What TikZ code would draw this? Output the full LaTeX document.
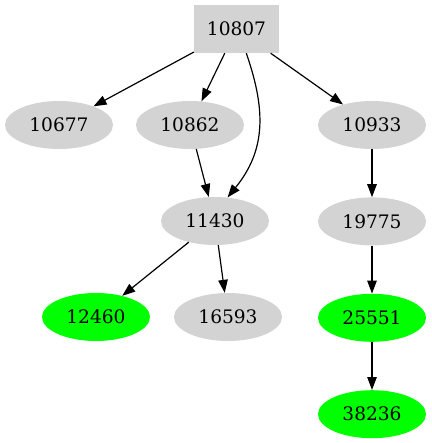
\documentclass[tikz,border=0pt]{standalone}
\usepackage{fontspec}
\setmainfont{DejaVu Serif}
\usetikzlibrary{arrows.meta,positioning,shapes.geometric}
\definecolor{nodegray}{RGB}{211,211,211}
\definecolor{leafgreen}{RGB}{0,255,0}

\begin{document}
\begin{tikzpicture}[
  x=1pt, y=-1pt, >={Triangle[length=13pt,width=9.5pt]},
  every node/.style={font=\fontsize{18.6}{20}\selectfont},
  rootbox/.style={rectangle, fill=nodegray, minimum width=85pt,
                  minimum height=48pt, inner sep=0pt},
  oval/.style={ellipse, fill=nodegray, minimum width=108pt,
               minimum height=48pt, inner sep=0pt},
  leaf/.style={oval, fill=leafgreen},
  edge/.style={->, line width=1.2pt}
]
  \useasboundingbox (0,0) rectangle (431,443);

  \node[rootbox] (n10807) at (236.5,29) {10807};
  \node[oval] (n10677) at (59,125) {10677};
  \node[oval] (n10862) at (190,125) {10862};
  \node[oval] (n10933) at (372,125) {10933};
  \node[oval] (n11430) at (215,221) {11430};
  \node[oval, below=48pt of n10933] (n19775) {19775};
  \node[leaf] (n12460) at (96,317) {12460};
  \node[oval] (n16593) at (228,317) {16593};
  \node[leaf, below=48pt of n19775] (n25551) {25551};
  \node[leaf, below=48pt of n25551] (n38236) {38236};

  \draw[edge] (n10807) -- (n10677);
  \draw[edge] (n10807) -- (n10862);
  \draw[edge] (n10807.-68) .. controls (266,110) and (266,150) .. (n11430.62);
  \draw[edge] (n10807) -- (n10933);
  \draw[edge] (n10862) -- (n11430);
  \draw[edge] (n11430) -- (n12460);
  \draw[edge] (n11430) -- (n16593);
  \draw[edge] (n10933) -- (n19775);
  \draw[edge] (n19775) -- (n25551);
  \draw[edge] (n25551) -- (n38236);
\end{tikzpicture}
\end{document}
